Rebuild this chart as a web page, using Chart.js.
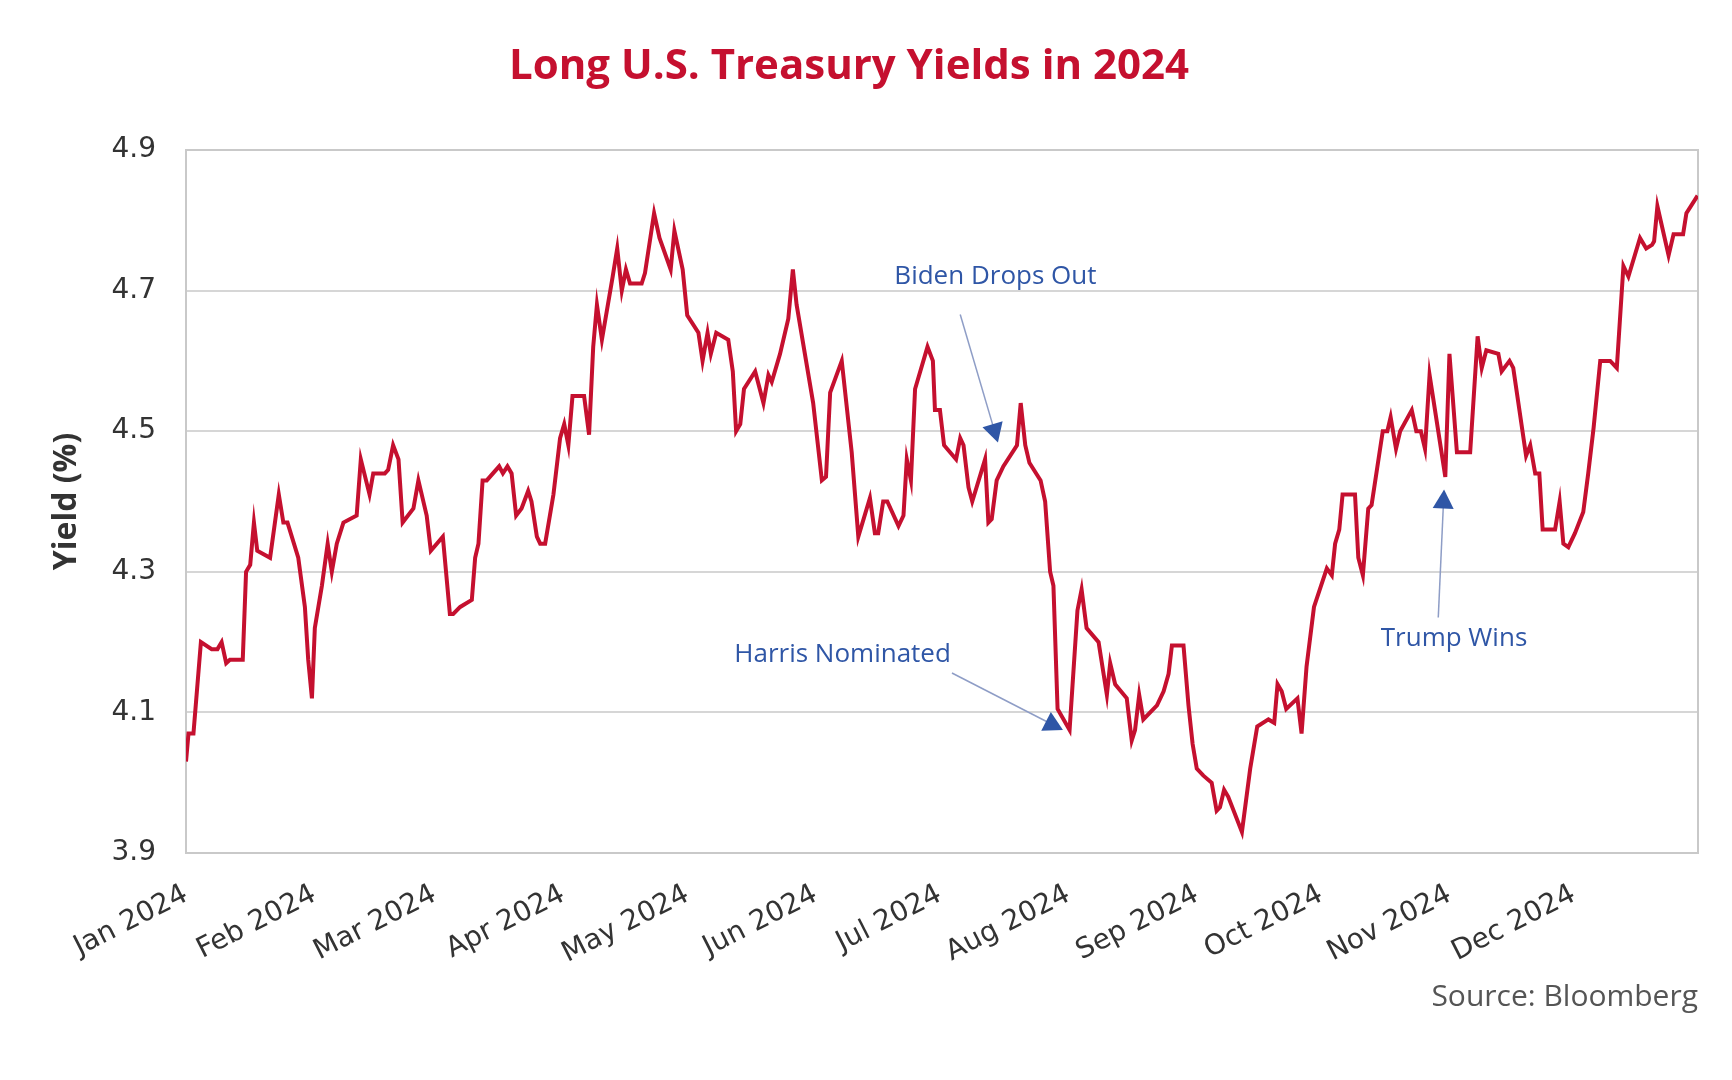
<!DOCTYPE html>
<html>
<head>
<meta charset="utf-8">
<title>Long U.S. Treasury Yields in 2024</title>
<script src="https://cdn.jsdelivr.net/npm/chart.js@4.4.1/dist/chart.umd.min.js"></script>
<style>
  html, body { margin: 0; padding: 0; background: #fff; }
  canvas { display: block; }
</style>
</head>
<body>
<canvas id="chart" width="1732" height="1080"></canvas>
<script>
// days since 1 Jan 2024
var days = [0.0, 0.6, 1.8, 3.6, 6.2, 7.6, 8.6, 9.7, 10.6, 13.7,
  14.5, 15.5, 16.4, 17.2, 20.3, 22.4, 23.5, 24.5, 27.1, 28.7,
  29.5, 30.4, 31.1, 32.8, 34.2, 35.2, 36.4, 38.0, 41.2, 42.2,
  44.3, 45.2, 48.0, 48.8, 50.0, 51.3, 52.3, 54.9, 56.1, 58.1,
  59.1, 62.0, 63.7, 64.5, 66.2, 69.0, 69.8, 70.6, 71.6, 72.6,
  75.6, 76.5, 77.6, 78.6, 79.7, 81.0, 82.6, 83.4, 84.7, 85.5,
  86.7, 88.7, 90.3, 91.3, 92.3, 93.3, 96.1, 97.3, 98.3, 99.2,
  100.4, 103.0, 104.1, 105.2, 106.2, 107.2, 110.0, 110.8, 113.0, 114.3,
  117.0, 117.9, 119.9, 121.0, 123.7, 124.7, 125.9, 126.7, 128.0, 130.9,
  132.0, 132.8, 133.8, 134.7, 137.4, 139.4, 140.6, 141.4, 143.4, 145.4,
  146.5, 147.4, 151.4, 153.5, 154.5, 155.5, 158.3, 160.7, 162.3, 165.1,
  166.3, 167.1, 168.3, 169.3, 172.0, 173.2, 174.0, 175.0, 176.0, 179.0,
  180.3, 180.8, 182.0, 183.0, 185.9, 186.9, 187.7, 188.9, 189.8, 192.9,
  193.7, 194.5, 195.7, 197.3, 200.6, 201.5, 202.6, 203.6, 206.3, 207.4,
  208.6, 209.4, 210.4, 213.3, 215.2, 216.2, 217.4, 220.3, 222.3, 223.1,
  224.3, 227.1, 228.3, 229.1, 230.1, 231.1, 234.4, 236.0, 237.2, 238.0,
  240.8, 242.0, 243.0, 244.0, 245.6, 247.6, 248.8, 249.6, 250.6, 251.6,
  254.9, 256.9, 258.6, 261.3, 262.7, 263.5, 264.5, 265.6, 268.3, 269.3,
  270.5, 272.3, 275.4, 276.6, 277.4, 278.4, 279.2, 282.2, 283.0, 284.1,
  285.4, 286.2, 288.9, 290.0, 290.8, 292.1, 293.1, 295.9, 297.0, 298.1,
  299.1, 300.2, 304.0, 305.0, 306.8, 310.0, 311.8, 312.8, 313.9, 316.8,
  317.6, 319.5, 320.4, 323.5, 324.5, 325.7, 326.7, 327.5, 330.5, 331.6,
  332.5, 333.7, 335.3, 337.3, 338.5, 339.8, 341.4, 343.8, 345.4, 347.0,
  348.2, 351.0, 352.5, 353.9, 354.4, 355.2, 357.9, 359.1, 360.7, 361.4,
  362.2, 364.9];

// yield in %
var yields = [4.03, 4.07, 4.07, 4.20, 4.19, 4.19, 4.20, 4.17, 4.175, 4.175,
  4.30, 4.31, 4.37, 4.33, 4.32, 4.41, 4.37, 4.37, 4.32, 4.25,
  4.175, 4.12, 4.22, 4.28, 4.34, 4.30, 4.34, 4.37, 4.38, 4.46,
  4.41, 4.44, 4.44, 4.445, 4.48, 4.46, 4.37, 4.39, 4.43, 4.38,
  4.33, 4.35, 4.24, 4.24, 4.25, 4.26, 4.32, 4.34, 4.43, 4.43,
  4.45, 4.44, 4.45, 4.44, 4.38, 4.39, 4.415, 4.40, 4.35, 4.34,
  4.34, 4.41, 4.49, 4.51, 4.48, 4.55, 4.55, 4.495, 4.62, 4.68,
  4.63, 4.72, 4.76, 4.70, 4.73, 4.71, 4.71, 4.725, 4.81, 4.775,
  4.73, 4.785, 4.73, 4.665, 4.64, 4.60, 4.64, 4.61, 4.64, 4.63,
  4.585, 4.50, 4.51, 4.56, 4.585, 4.54, 4.58, 4.57, 4.61, 4.66,
  4.73, 4.68, 4.54, 4.43, 4.435, 4.555, 4.60, 4.47, 4.35, 4.405,
  4.355, 4.355, 4.40, 4.40, 4.365, 4.38, 4.46, 4.43, 4.56, 4.62,
  4.60, 4.53, 4.53, 4.48, 4.46, 4.49, 4.48, 4.42, 4.40, 4.46,
  4.37, 4.375, 4.43, 4.45, 4.48, 4.54, 4.48, 4.455, 4.43, 4.40,
  4.30, 4.28, 4.105, 4.075, 4.245, 4.275, 4.22, 4.20, 4.125, 4.17,
  4.14, 4.12, 4.06, 4.075, 4.125, 4.09, 4.11, 4.13, 4.155, 4.195,
  4.195, 4.11, 4.055, 4.02, 4.01, 4.00, 3.96, 3.965, 3.99, 3.98,
  3.93, 4.02, 4.08, 4.09, 4.085, 4.14, 4.13, 4.105, 4.12, 4.07,
  4.165, 4.25, 4.305, 4.295, 4.34, 4.36, 4.41, 4.41, 4.32, 4.295,
  4.39, 4.395, 4.50, 4.50, 4.52, 4.475, 4.50, 4.53, 4.50, 4.50,
  4.475, 4.58, 4.435, 4.61, 4.47, 4.47, 4.635, 4.59, 4.615, 4.61,
  4.585, 4.60, 4.59, 4.465, 4.48, 4.44, 4.44, 4.36, 4.36, 4.40,
  4.34, 4.335, 4.355, 4.385, 4.44, 4.505, 4.60, 4.60, 4.59, 4.735,
  4.72, 4.775, 4.76, 4.765, 4.77, 4.82, 4.75, 4.78, 4.78, 4.78,
  4.81, 4.835];

var monthStarts = [0, 31, 60, 91, 121, 152, 182, 213, 244, 274, 305, 335];
var monthLabels = ['Jan 2024', 'Feb 2024', 'Mar 2024', 'Apr 2024', 'May 2024', 'Jun 2024',
  'Jul 2024', 'Aug 2024', 'Sep 2024', 'Oct 2024', 'Nov 2024', 'Dec 2024'];
var yTicks = [3.9, 4.1, 4.3, 4.5, 4.7, 4.9];

// call-outs: text, where the arrow points, where it starts, where the text sits
var noteTexts = ['Biden Drops Out', 'Harris Nominated', 'Trump Wins'];
var noteTipDays = [196.0, 211.7, 303.7];
var noteTipYields = [4.484, 4.075, 4.417];
var noteTailDays = [186.9, 184.9, 302.3];
var noteTailYields = [4.666, 4.156, 4.235];
var noteTextDays = [195.4, 158.5, 306.1];
var noteTextYields = [4.709, 4.172, 4.194];

var red = '#c5102f';
var blue = '#2f56a6';

var frame = {
  id: 'frame',
  beforeDatasetsDraw: function (chart) {
    var a = chart.chartArea, ctx = chart.ctx;
    ctx.save();
    ctx.strokeStyle = '#c9c9c9';
    ctx.lineWidth = 2;
    ctx.strokeRect(a.left, a.top, a.right - a.left, a.bottom - a.top);
    ctx.restore();
  }
};

var notes = {
  id: 'notes',
  afterDatasetsDraw: function (chart) {
    var sx = chart.scales.x, sy = chart.scales.y, ctx = chart.ctx;
    ctx.save();
    for (var i = 0; i < noteTexts.length; i++) {
      var tx = sx.getPixelForValue(noteTipDays[i]), ty = sy.getPixelForValue(noteTipYields[i]);
      var fx = sx.getPixelForValue(noteTailDays[i]), fy = sy.getPixelForValue(noteTailYields[i]);
      var dx = tx - fx, dy = ty - fy, len = Math.sqrt(dx * dx + dy * dy);
      var ux = dx / len, uy = dy / len;
      var head = 19, half = 10.5;
      ctx.strokeStyle = '#8e9dc6';
      ctx.lineWidth = 1.5;
      ctx.beginPath();
      ctx.moveTo(fx, fy);
      ctx.lineTo(tx - ux * head * 0.8, ty - uy * head * 0.8);
      ctx.stroke();
      ctx.fillStyle = blue;
      ctx.beginPath();
      ctx.moveTo(tx, ty);
      ctx.lineTo(tx - ux * head - uy * half, ty - uy * head + ux * half);
      ctx.lineTo(tx - ux * head + uy * half, ty - uy * head - ux * half);
      ctx.closePath();
      ctx.fill();
      ctx.font = '26px "Open Sans"';
      ctx.textAlign = 'center';
      ctx.textBaseline = 'alphabetic';
      ctx.fillText(noteTexts[i], sx.getPixelForValue(noteTextDays[i]), sy.getPixelForValue(noteTextYields[i]));
    }
    ctx.restore();
  }
};

var ctx = document.getElementById('chart').getContext('2d');
var chart = new Chart(ctx, {
  type: 'line',
  data: {
    datasets: [{
      data: days.map(function (d, i) { return { x: d, y: yields[i] }; }),
      borderColor: red,
      borderWidth: 4,
      pointRadius: 0,
      tension: 0,
      fill: false
    }]
  },
  options: {
    responsive: false,
    animation: false,
    layout: { padding: { left: 0, right: 34, top: 0, bottom: 0 } },
    plugins: {
      legend: { display: false },
      tooltip: { enabled: false },
      title: {
        display: true,
        text: 'Long U.S. Treasury Yields in 2024',
        color: red,
        font: { family: 'Open Sans', size: 42, weight: 'bold' },
        padding: { top: 42, bottom: 57.6 }
      },
      subtitle: {
        display: true,
        position: 'bottom',
        align: 'end',
        text: 'Source: Bloomberg',
        color: '#555555',
        font: { family: 'Open Sans', size: 30 },
        padding: { top: 0, bottom: 65 }
      }
    },
    scales: {
      x: {
        type: 'linear',
        min: 0,
        max: 365,
        afterBuildTicks: function (s) { s.ticks = monthStarts.map(function (v) { return { value: v }; }); },
        afterFit: function (s) { s.height = 126; },
        ticks: {
          autoSkip: false,
          minRotation: 27,
          maxRotation: 27,
          padding: 17,
          color: '#333333',
          font: { family: 'DejaVu Sans', size: 28 },
          callback: function (v) { return monthLabels[monthStarts.indexOf(v)]; }
        },
        grid: { display: false },
        border: { display: false }
      },
      y: {
        min: 3.9,
        max: 4.9,
        afterBuildTicks: function (s) { s.ticks = yTicks.map(function (v) { return { value: v }; }); },
        afterFit: function (s) { s.width = 186; },
        ticks: {
          padding: 30,
          color: '#333333',
          font: { family: 'DejaVu Sans', size: 28 },
          callback: function (v) { return v.toFixed(1); }
        },
        grid: { color: '#d6d6d6', lineWidth: 2, drawTicks: false },
        border: { display: false },
        title: {
          display: true,
          text: 'Yield (%)',
          color: '#333333',
          font: { family: 'Open Sans', size: 32, weight: 'bold' },
          padding: { top: 48, bottom: 0 }
        }
      }
    }
  },
  plugins: [frame, notes]
});
</script>
</body>
</html>
